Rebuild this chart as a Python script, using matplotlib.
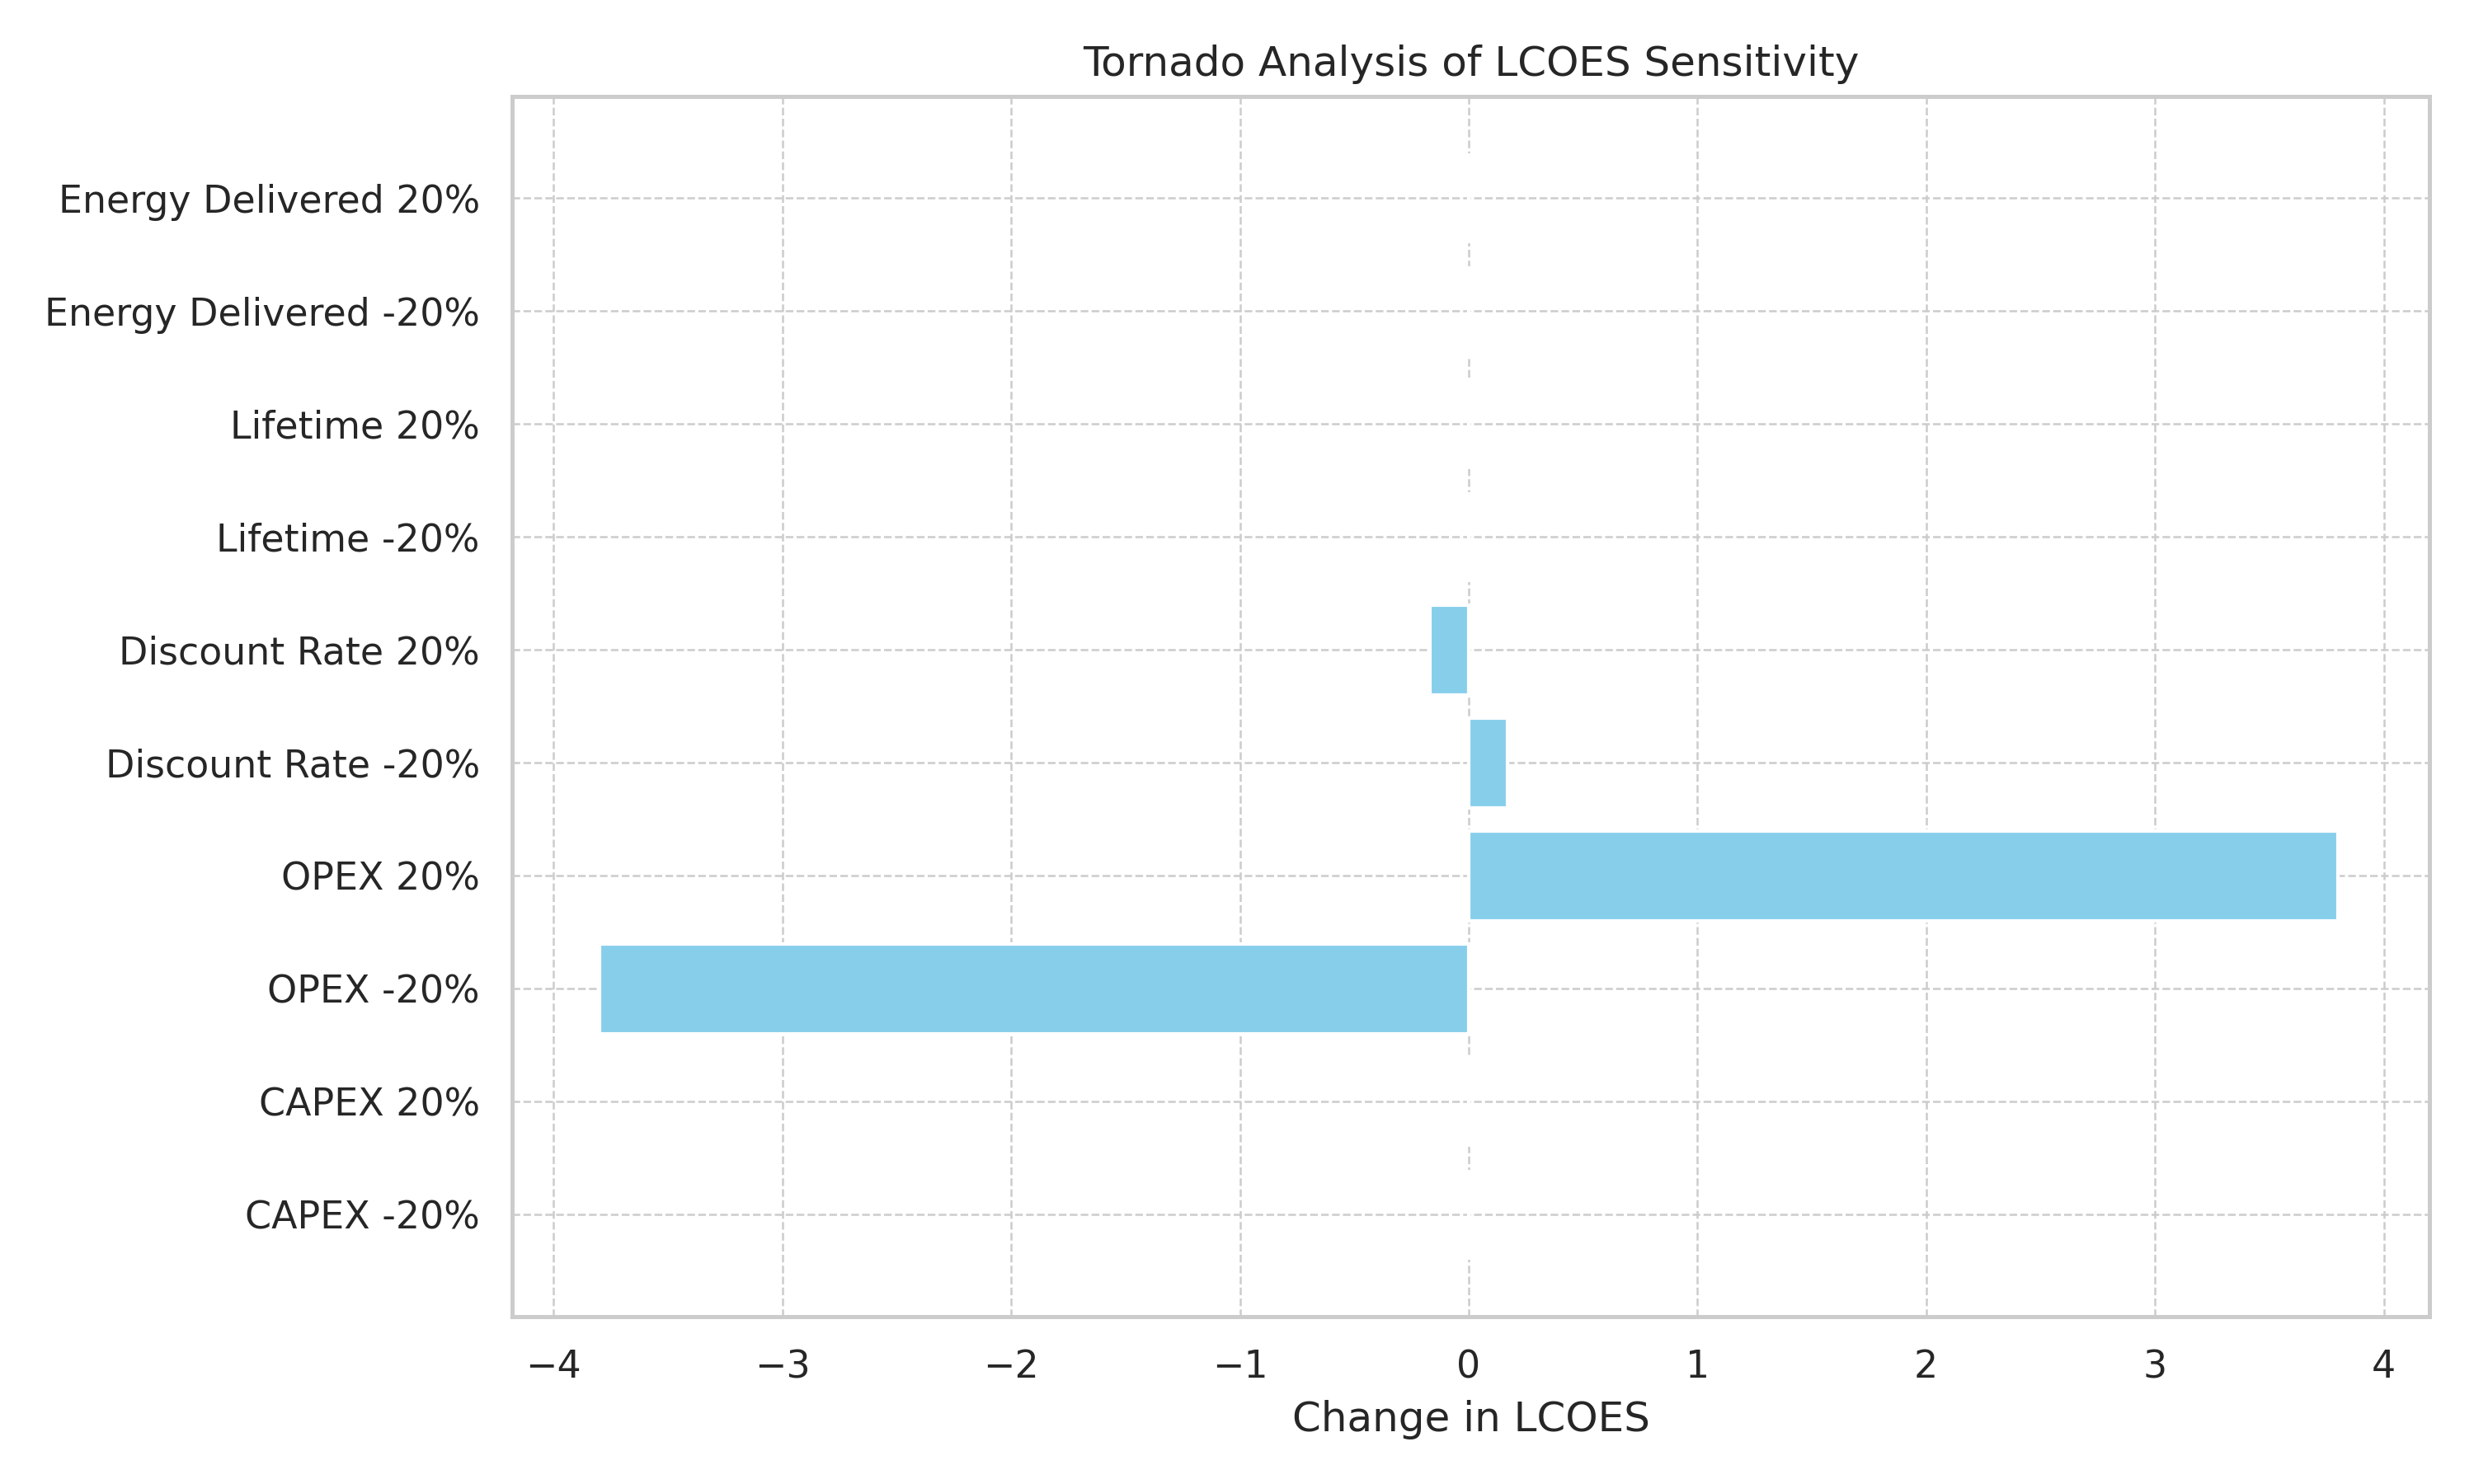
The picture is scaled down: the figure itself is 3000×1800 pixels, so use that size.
import matplotlib
matplotlib.use("Agg")
import matplotlib.pyplot as plt
import seaborn as sns

sns.set_theme(style="whitegrid")

labels = ["CAPEX -20%", "CAPEX 20%", "OPEX -20%", "OPEX 20%",
          "Discount Rate -20%", "Discount Rate 20%",
          "Lifetime -20%", "Lifetime 20%",
          "Energy Delivered -20%", "Energy Delivered 20%"]
changes = [0.0, 0.0, -3.8, 3.8, 0.17, -0.17, 0.0, 0.0, 0.0, 0.0]

fig, ax = plt.subplots(figsize=(10, 6), dpi=300)
ax.barh(labels, changes, color="skyblue", edgecolor="white")
ax.set_xlabel("Change in LCOES")
ax.set_title("Tornado Analysis of LCOES Sensitivity")
ax.grid(True, linestyle="--", linewidth=0.6)
ax.set_xlim(-4.18, 4.2)
ax.set_ylim(-0.9, 9.9)
for s in ax.spines.values():
    s.set_color("#cccccc")
    s.set_linewidth(1.2)
plt.tight_layout()
plt.savefig("out.png")
